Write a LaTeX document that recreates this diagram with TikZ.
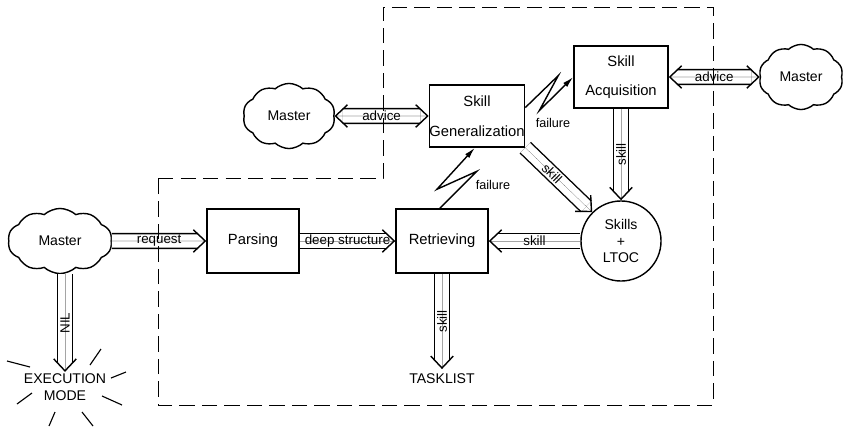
\documentclass[tikz,border=0pt]{standalone}
\usepackage{fontspec}
\setmainfont{Liberation Sans}
\usetikzlibrary{arrows.meta,shapes.symbols}

\tikzset{
    barb/.tip={Straight Barb[line width=1pt,length=8.5pt,width=16pt]},
    pipe/.style={line width=0.01pt,-barb,
        preaction={draw,-,double,line width=1pt,double distance=9.5pt,shorten >=6pt}},
    twopipe/.style={line width=0.01pt,barb-barb,
        preaction={draw,-,double,line width=1pt,double distance=9.5pt,shorten >=6pt,shorten <=6pt}}
}

\begin{document}
\begin{tikzpicture}[x=0.025cm,y=-0.025cm,
    box/.style={draw,line width=1pt,minimum width=2.3cm,minimum height=1.6cm,align=center,inner sep=0pt,font=\fontsize{10.5}{12}\selectfont},
    master/.style={cloud,draw,line width=1pt,cloud puffs=10,cloud puff arc=85,inner sep=0pt},
    pipelabel/.style={font=\fontsize{9.5}{11}\selectfont,inner sep=0pt},
    failure/.style={line width=1pt,-{Latex[length=8pt,width=4pt]}},
    boundary/.style={line width=0.6pt,dash pattern=on 11pt off 5pt}]
        \useasboundingbox (0,0) rectangle (846,428);

        % Nodes
        \node[master,minimum width=2.6cm,minimum height=1.5cm] (m1) at (60,241) {Master};
        \node[master,minimum width=2.3cm,minimum height=1.5cm] (m2) at (289,116) {Master};
        \node[master,minimum width=2.1cm,minimum height=1.6cm] (m3) at (801,77) {Master};
        \node[box] (parse) at (253,241) {Parsing};
        \node[box] (retr) at (442,241) {Retrieving};
        \node[box,minimum width=2.35cm,minimum height=1.55cm] (gen) at (477,116) {Skill\\[9pt]Generalization};
        \node[box,minimum width=2.35cm,minimum height=1.55cm] (acq) at (621,77) {Skill\\[9pt]Acquisition};
        \node[circle,draw,line width=1pt,minimum size=2cm,align=center,inner sep=0pt] (skills) at (621,241) {Skills\\+\\LTOC};
        \node (task) at (442,379) {TASKLIST};
        \node[align=center,inner sep=1pt] (exec) at (65,387) {EXECUTION\\MODE};

        % Pipes
        \draw[pipe] (m1) -- node[pipelabel]{request} (parse);
        \draw[pipe] (parse) -- node[pipelabel]{deep structure} (retr);
        \draw[pipe] (skills) -- node[pipelabel]{skill} (retr);
        \draw[pipe] (acq) -- node[pipelabel,rotate=90]{skill} (skills);
        \draw[pipe] (gen.south east) -- node[pipelabel,rotate=-45,pos=.4]{skill} (skills.north west);
        \draw[twopipe] (m2) -- node[pipelabel]{advice} (gen);
        \draw[twopipe] (acq) -- node[pipelabel]{advice} (m3);
        \draw[pipe] (retr) -- node[pipelabel,rotate=90]{skill} (task);
        \draw[pipe] (exec.north |- m1.south) -- node[pipelabel,rotate=90]{NIL} (exec.north);

        % Failures
        \draw[failure] ([xshift=-1.5pt]retr.north) -- ++(37,-37) -- ++(-40,18) -- ([xshift=-1.5pt]gen.south);
        \node[font=\small] (fail1) at (493,185) {failure};
        \draw[failure] ([yshift=6pt]gen.east) -- ++(33,-32) -- ++(-19,35) -- (acq.west);
        \node[font=\small] (fail2) at (553,123) {failure};

        % Rays
        \foreach \a/\b/\c/\d in {7/361/30/367, 90/365/101/349, 111/378/126/372, 102/396/122/405,
                                 82/412/93/426, 55/412/49/426, 32/393/17/404}
            \draw[line width=0.8pt] (\a,\b) -- (\c,\d);

        % Boundary
        \draw[boundary] (158,178) -- (383,178) -- (383,7) -- (713,7) -- (713,405) -- (158,405) -- cycle;
\end{tikzpicture}
\end{document}
